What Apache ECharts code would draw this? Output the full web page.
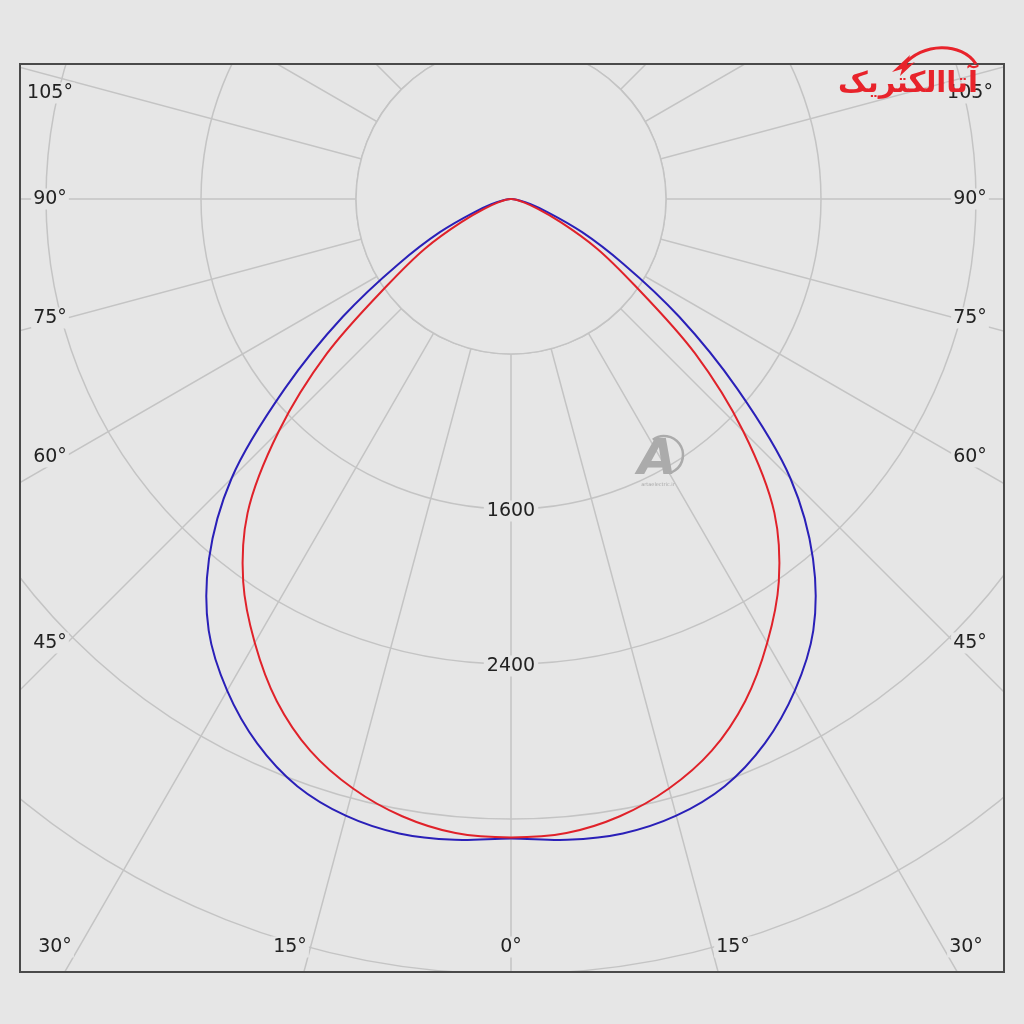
<!DOCTYPE html>
<html>
<head>
<meta charset="utf-8">
<script src="https://cdn.jsdelivr.net/npm/echarts@6/dist/echarts.min.js"></script>
<style>
html,body{margin:0;padding:0;background:#e6e6e6;}
#chart{width:1024px;height:1024px;}
</style>
</head>
<body>
<div id="chart"></div>
<script>
// ---- data ----
const gammaDeg = [0, 5, 10, 15, 20, 25, 30, 35, 40, 45, 50, 55, 60, 65, 70, 75, 80, 85, 90];
const blueCd   = [3300, 3320, 3325, 3295, 3225, 3100, 2930, 2720, 2425, 2040, 1525, 1060, 670, 405, 205, 105, 45, 15, 0];
const redCd    = [3295, 3285, 3235, 3150, 3030, 2860, 2645, 2410, 2115, 1695, 1240, 785, 515, 285, 145, 72, 31, 10, 0];
const radiusLabels = [1600, 2400];
const sideLabels = ['105°', '90°', '75°', '60°', '45°'];
const bottomLabels = ['30°', '15°', '0°', '15°', '30°'];
const logoText = 'آتاالکتریک';

// ---- layout ----
const BG = '#e6e6e6';
const GRID = '#c4c4c4';
const FRAME = {x: 20, y: 64, w: 984, h: 908};
const sideY = [93, 199, 318, 457, 643];
const leftX = 50, rightX = 970;
const bottomX = [55, 290, 511, 733, 966];
const bottomY = 947;

function halfToFull(cd) {
  const pts = [];
  for (let i = gammaDeg.length - 1; i >= 0; i--) pts.push([cd[i], gammaDeg[i]]);
  for (let i = 1; i < gammaDeg.length; i++) pts.push([cd[i], -gammaDeg[i]]);
  return pts;
}

// centripetal Catmull-Rom through pixel points -> SVG path
function smoothPath(p) {
  const n = p.length;
  let d = 'M' + p[0][0] + ' ' + p[0][1];
  const dist = (a, b) => Math.max(1e-6, Math.sqrt(Math.hypot(b[0] - a[0], b[1] - a[1])));
  for (let i = 0; i < n - 1; i++) {
    const p0 = p[Math.max(0, i - 1)], p1 = p[i], p2 = p[i + 1], p3 = p[Math.min(n - 1, i + 2)];
    let d1 = dist(p0, p1), d2 = dist(p1, p2), d3 = dist(p2, p3);
    if (i === 0) d1 = d2;
    if (i === n - 2) d3 = d2;
    const a1 = d1 * d1, a2 = d2 * d2, a3 = d3 * d3;
    const b1 = [0, 1].map(k => (a1 * p2[k] - a2 * p0[k] + (2 * a1 + 3 * d1 * d2 + a2) * p1[k]) / (3 * d1 * (d1 + d2)));
    const b2 = [0, 1].map(k => (a3 * p1[k] - a2 * p3[k] + (2 * a3 + 3 * d3 * d2 + a2) * p2[k]) / (3 * d3 * (d3 + d2)));
    if (i === 0) { b1[0] = p1[0] + (p2[0] - p1[0]) / 3; b1[1] = p1[1] + (p2[1] - p1[1]) / 3; }
    if (i === n - 2) { b2[0] = p2[0] - (p2[0] - p1[0]) / 3; b2[1] = p2[1] - (p2[1] - p1[1]) / 3; }
    d += ' C' + b1[0] + ' ' + b1[1] + ' ' + b2[0] + ' ' + b2[1] + ' ' + p2[0] + ' ' + p2[1];
  }
  return d;
}

function curveSeries(name, cd, color, z) {
  const pts = halfToFull(cd);
  return {
    type: 'custom', name: name, coordinateSystem: 'polar', z: z,
    data: [[cd[0], 0]], silent: true,
    renderItem: function (params, api) {
      const px = pts.map(q => api.coord(q));
      return {type: 'path', shape: {pathData: smoothPath(px)},
        style: {stroke: color, fill: 'none', lineWidth: 2}};
    }
  };
}

const chart = echarts.init(document.getElementById('chart'), null, {renderer: 'canvas'});
chart.setOption({
  animation: false,
  backgroundColor: BG,
  polar: {center: [511, 199], radius: 1085},
  angleAxis: {
    type: 'value', min: -180, max: 180, interval: 15,
    startAngle: 90, clockwise: true,
    axisLine: {show: false}, axisTick: {show: false}, axisLabel: {show: false},
    splitLine: {show: true, lineStyle: {color: GRID, width: 1.5}}
  },
  radiusAxis: {
    type: 'value', min: 0, max: 5600, interval: 800,
    axisLine: {show: false}, axisTick: {show: false}, axisLabel: {show: false},
    splitLine: {show: true, lineStyle: {color: GRID, width: 1.5}}
  },
  series: [
    curveSeries('C0-C180', blueCd, '#2a20b8', 3),
    curveSeries('C90-C270', redCd, '#e0222a', 4)
  ]
});

let c, p800;
try {
  c = chart.convertToPixel({polarIndex: 0}, [0, 0]);
  p800 = chart.convertToPixel({polarIndex: 0}, [800, 0]);
} catch (e) { c = null; }
if (!c || isNaN(c[0])) { c = [511, 199]; p800 = [511, 354]; }
const diskR = Math.hypot(p800[0] - c[0], p800[1] - c[1]);

const font = '19px "DejaVu Sans", sans-serif';
const g = [];
// inner disk
g.push({type: 'circle', z: 1, shape: {cx: c[0], cy: c[1], r: diskR},
  style: {fill: BG, stroke: GRID, lineWidth: 1.5}});
// radius labels
radiusLabels.forEach(v => {
  let p;
  try { p = chart.convertToPixel({polarIndex: 0}, [v, 0]); } catch (e) { p = null; }
  if (!p) p = [c[0], c[1] + v * diskR / 800];
  g.push({type: 'text', z: 5, style: {text: String(v), x: p[0], y: p[1] + 2, align: 'center',
    verticalAlign: 'middle', font: font, fill: '#222', backgroundColor: BG, padding: [1, 3]}});
});
// angle labels
sideLabels.forEach((t, i) => {
  g.push({type: 'text', z: 5, style: {text: t, x: leftX, y: sideY[i], align: 'center', verticalAlign: 'middle',
    font: font, fill: '#222', backgroundColor: BG, padding: [1, 2]}});
  g.push({type: 'text', z: 5, style: {text: t, x: rightX, y: sideY[i], align: 'center', verticalAlign: 'middle',
    font: font, fill: '#222', backgroundColor: BG, padding: [1, 2]}});
});
bottomLabels.forEach((t, i) => {
  g.push({type: 'text', z: 5, style: {text: t, x: bottomX[i], y: bottomY, align: 'center', verticalAlign: 'middle',
    font: font, fill: '#222', backgroundColor: BG, padding: [1, 2]}});
});
// masks outside the frame
[[0, 0, 1024, FRAME.y], [0, FRAME.y + FRAME.h, 1024, 1024 - FRAME.y - FRAME.h],
 [0, 0, FRAME.x, 1024], [FRAME.x + FRAME.w, 0, 1024 - FRAME.x - FRAME.w, 1024]].forEach(r => {
  g.push({type: 'rect', z: 10, shape: {x: r[0], y: r[1], width: r[2], height: r[3]}, style: {fill: BG}});
});
// frame
g.push({type: 'rect', z: 11, shape: {x: FRAME.x, y: FRAME.y, width: FRAME.w, height: FRAME.h},
  style: {fill: 'none', stroke: '#4a4a4a', lineWidth: 2}});
// watermark
g.push({type: 'text', z: 2, style: {text: 'A', x: 657, y: 461, align: 'center', verticalAlign: 'middle',
  font: 'italic bold 50px "DejaVu Sans", sans-serif', fill: '#ababab'}});
g.push({type: 'arc', z: 2, shape: {cx: 664, cy: 455, r: 19, startAngle: -2.2, endAngle: 1.3},
  style: {stroke: '#ababab', fill: 'none', lineWidth: 2.5}});
g.push({type: 'text', z: 2, style: {text: 'artaelectric.ir', x: 658, y: 485, align: 'center', verticalAlign: 'middle',
  font: '5px "DejaVu Sans", sans-serif', fill: '#a8a8a8'}});
// logo
g.push({type: 'bezierCurve', z: 12, shape: {x1: 903, y1: 66, cpx1: 922, cpy1: 42, cpx2: 962, cpy2: 42, x2: 976, y2: 64},
  style: {stroke: '#e8232b', fill: 'none', lineWidth: 3}});
g.push({type: 'polygon', z: 12, shape: {points: [[892, 72], [910, 55], [907, 65], [915, 62], [900, 76], [902, 69]]},
  style: {fill: '#e8232b'}});
g.push({type: 'text', z: 12, style: {text: logoText, x: 908, y: 84, align: 'center', verticalAlign: 'middle',
  font: 'bold 29px "DejaVu Sans", sans-serif', fill: '#e8232b'}});
chart.setOption({graphic: g});
</script>
</body>
</html>
